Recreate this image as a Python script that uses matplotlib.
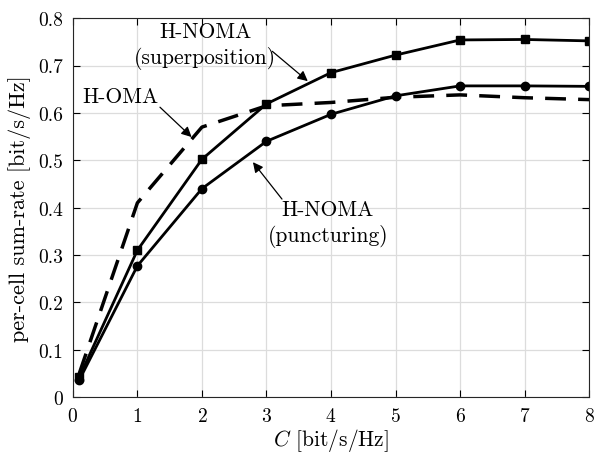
import matplotlib
matplotlib.use("Agg")
import matplotlib.pyplot as plt

plt.rcParams['font.family'] = 'cmr10'
plt.rcParams['mathtext.fontset'] = 'cm'
plt.rcParams['axes.formatter.use_mathtext'] = True

C = [0.1, 1, 2, 3, 4, 5, 6, 7, 8]
rate_superposition = [0.042, 0.31, 0.502, 0.619, 0.685, 0.722, 0.754, 0.755, 0.752]
rate_puncturing = [0.036, 0.277, 0.440, 0.540, 0.597, 0.636, 0.657, 0.657, 0.656]
rate_oma = [0.05, 0.41, 0.57, 0.615, 0.622, 0.633, 0.638, 0.632, 0.628]

fig = plt.figure(figsize=(5.97, 4.56), dpi=100)
ax = fig.add_axes([0.122, 0.127, 0.865, 0.831])

ax.plot(C, rate_oma, '--', color='black', lw=2.5, dashes=(6, 3.5))
ax.plot(C, rate_superposition, '-s', color='black', lw=2.0, markersize=6)
ax.plot(C, rate_puncturing, '-o', color='black', lw=2.0, markersize=6)

ax.set_xlim(0, 8)
ax.set_ylim(0, 0.8)
ax.set_xticks(range(0, 9))
ax.set_yticks([0, 0.1, 0.2, 0.3, 0.4, 0.5, 0.6, 0.7, 0.8])
ax.set_yticklabels(['0', '0.1', '0.2', '0.3', '0.4', '0.5', '0.6', '0.7', '0.8'])
ax.grid(True, color='#dcdcdc', lw=0.9)
ax.set_axisbelow(True)
ax.tick_params(direction='in', top=True, right=True, labelsize=14, length=5, width=0.8, pad=7)
for s in ax.spines.values():
    s.set_linewidth(0.8)
    s.set_color('#262626')

ax.set_xlabel(r'$C$ [bit/s/Hz]', fontsize=15.5, labelpad=1)
ax.set_ylabel('per-cell sum-rate [bit/s/Hz]', fontsize=16, labelpad=5)

# labels and their arrows (arrows start at the label's edge, as in the original)
arrow = dict(arrowstyle='-|>', color='black', lw=0.9, mutation_scale=15, shrinkA=0, shrinkB=0)
ax.text(2.05, 0.743, 'H-NOMA\n(superposition)', ha='center', va='center',
        fontsize=15.5, linespacing=1.3)
ax.annotate('', xy=(3.64, 0.667), xytext=(3.09, 0.730), arrowprops=arrow)

ax.text(0.73, 0.635, 'H-OMA', ha='center', va='center', fontsize=15.5)
ax.annotate('', xy=(1.84, 0.549), xytext=(1.35, 0.612), arrowprops=arrow)

ax.text(3.95, 0.367, 'H-NOMA\n(puncturing)', ha='center', va='center',
        fontsize=15.5, linespacing=1.3)
ax.annotate('', xy=(2.79, 0.496), xytext=(3.24, 0.418), arrowprops=arrow)

fig.savefig('out.png', dpi=100)
